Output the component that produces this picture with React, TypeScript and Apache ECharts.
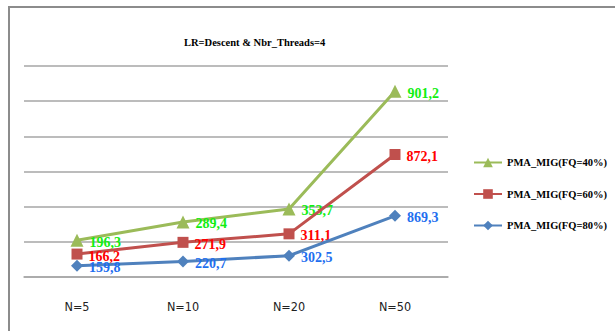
import React, { useEffect, useRef } from "react";
import * as echarts from "echarts";

const categories = ["N=5", "N=10", "N=20", "N=50"];
const seriesNames = ["PMA_MIG(FQ=40%)", "PMA_MIG(FQ=60%)", "PMA_MIG(FQ=80%)"];
const fq40 = [196.3, 289.4, 353.7, 901.2];
const fq60 = [166.2, 271.9, 311.1, 872.1];
const fq80 = [159.8, 220.7, 302.5, 869.3];

const SERIF = "Liberation Serif";
const fmt = (p: any) => Number(p.value).toFixed(1).replace(".", ",");

export default function App() {
  const ref = useRef<HTMLDivElement>(null);

  useEffect(() => {
    if (!ref.current) return;
    const chart = echarts.init(ref.current, undefined, { renderer: "svg" });

    const labelStyle = (color: string) => ({
      show: true,
      position: "right" as const,
      distance: 6,
      offset: [0, 2],
      color,
      fontFamily: SERIF,
      fontWeight: "bold" as const,
      fontSize: 14,
      formatter: fmt,
    });

    chart.setOption({
      animation: false,
      backgroundColor: "#ffffff",
      graphic: [
        {
          type: "rect",
          shape: { x: 9, y: 7, width: 720, height: 420 },
          style: { fill: "none", stroke: "#8c8c8c", lineWidth: 2 },
          silent: true,
          z: 0,
        },
      ],
      title: {
        text: "LR=Descent & Nbr_Threads=4",
        left: 179,
        top: 32,
        textStyle: {
          fontFamily: SERIF,
          fontWeight: "bold",
          fontSize: 10.5,
          color: "#000000",
        },
      },
      legend: {
        orient: "vertical",
        left: 468,
        top: 152,
        itemWidth: 28,
        itemHeight: 12,
        itemGap: 20.5,
        data: seriesNames,
        textStyle: {
          fontFamily: SERIF,
          fontWeight: "bold",
          fontSize: 10.5,
          color: "#000000",
        },
      },
      grid: { left: 24, right: 167, top: 66, bottom: 54 },
      xAxis: {
        type: "category",
        data: categories,
        boundaryGap: true,
        axisLine: { lineStyle: { color: "#a6a6a6", width: 1.5 } },
        axisTick: { show: false },
        axisLabel: {
          margin: 23,
          fontFamily: "DejaVu Sans Condensed",
          fontSize: 12.5,
          color: "#222222",
        },
      },
      yAxis: {
        type: "value",
        min: 0,
        max: 3000,
        interval: 500,
        axisLabel: { show: false },
        axisLine: { show: false },
        axisTick: { show: false },
        splitLine: { lineStyle: { color: "#a6a6a6", width: 1.5 } },
      },
      series: [
        {
          name: seriesNames[2],
          type: "line",
          stack: "total",
          data: fq80,
          color: "#4f81bd",
          symbol: "diamond",
          symbolSize: 12,
          lineStyle: { width: 3 },
          label: labelStyle("#1f6fef"),
          z: 4,
        },
        {
          name: seriesNames[1],
          type: "line",
          stack: "total",
          data: fq60,
          color: "#c0504d",
          symbol: "rect",
          symbolSize: 11,
          lineStyle: { width: 3 },
          label: labelStyle("#ff0000"),
          z: 3,
        },
        {
          name: seriesNames[0],
          type: "line",
          stack: "total",
          data: fq40,
          color: "#9bbb59",
          symbol: "triangle",
          symbolSize: 13,
          lineStyle: { width: 3 },
          label: labelStyle("#11ee11"),
          z: 2,
        },
      ],
    });

    return () => chart.dispose();
  }, []);

  return (
    <div
      ref={ref}
      style={{ position: "absolute", left: 0, top: 0, width: 615, height: 331 }}
    />
  );
}
